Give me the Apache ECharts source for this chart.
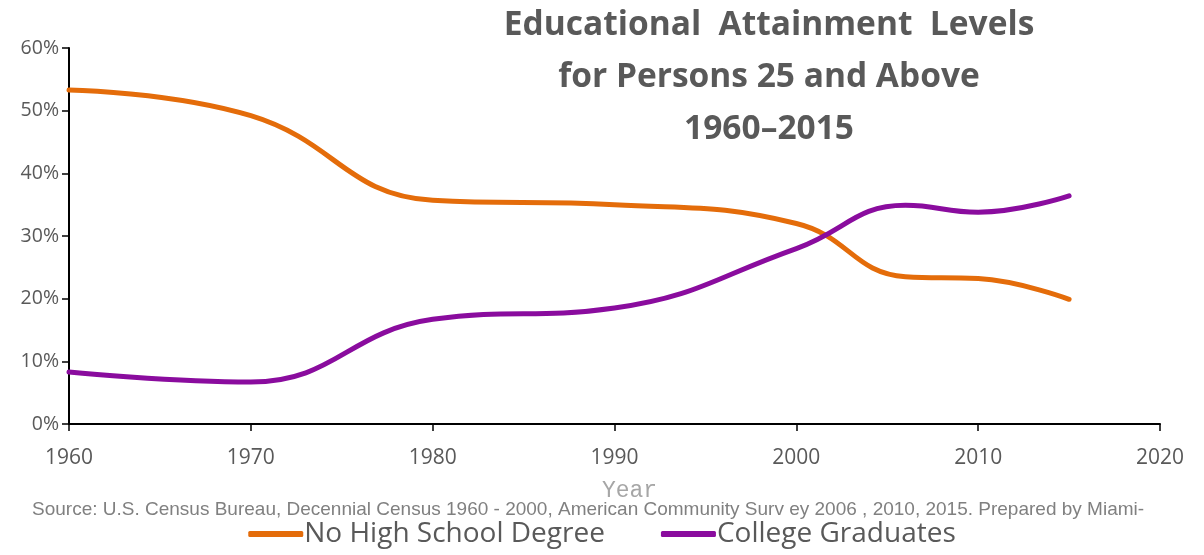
<!DOCTYPE html>
<html>
<head>
<meta charset="utf-8">
<script src="https://cdn.jsdelivr.net/npm/echarts@6/dist/echarts.min.js"></script>
<style>
  html, body { margin: 0; padding: 0; background: #fff; }
  #chart { width: 1204px; height: 555px; }
</style>
</head>
<body>
<div id="chart"></div>
<script>
// years of the census / ACS points
var years = [1960, 1970, 1980, 1990, 2000, 2006, 2010, 2015];
// percent of persons 25+ without a high school degree
var noHighSchool = [53.3, 49.2, 35.7, 35.0, 32.0, 23.5, 23.2, 19.9];
// percent of persons 25+ with a college degree
var collegeGrads = [8.3, 6.7, 16.7, 18.5, 28.0, 34.9, 33.8, 36.4];

var seriesNames = ['No High School Degree', 'College Graduates'];

function pairs(xs, ys) {
    var out = [];
    for (var i = 0; i < xs.length; i++) {
        out.push([xs[i], ys[i]]);
    }
    return out;
}

var myChart = echarts.init(document.getElementById('chart'));

var option = {
    backgroundColor: '#ffffff',
    animation: false,
    color: ['#E46C0A', '#8A0C9E'],
    title: {
        text: 'Educational  Attainment  Levels\nfor Persons 25 and Above\n1960\u20132015',
        left: 764,
        textAlign: 'center',
        top: -6,
        textStyle: {
            fontFamily: 'Open Sans',
            fontWeight: 'bold',
            fontSize: 33.5,
            lineHeight: 52,
            color: '#595959'
        }
    },
    legend: {
        data: seriesNames,
        bottom: 2,
        left: 'center',
        itemWidth: 55,
        itemHeight: 6,
        itemGap: 56,
        icon: 'roundRect',
        textStyle: {
            fontFamily: 'Open Sans',
            fontSize: 28,
            color: '#595959',
            padding: [0, 0, 0, -4]
        }
    },
    graphic: [{
        type: 'text',
        left: 32,
        top: 500,
        style: {
            text: 'Source: U.S. Census Bureau, Decennial Census 1960 - 2000, American Community Surv ey 2006 , 2010, 2015. Prepared by Miami-',
            font: '19px "Liberation Sans", Arial, sans-serif',
            fill: '#808080'
        }
    }],
    grid: {
        left: 69,
        right: 44,
        top: 48,
        bottom: 131,
        containLabel: false
    },
    xAxis: {
        type: 'value',
        min: 1960,
        max: 2020,
        interval: 10,
        name: 'Year',
        nameLocation: 'middle',
        nameGap: 55,
        nameTextStyle: {
            fontFamily: 'Liberation Mono',
            fontSize: 23,
            color: '#a6a6a6',
            padding: [0, 0, 0, 30]
        },
        axisLine: { show: true, lineStyle: { color: '#000', width: 2 } },
        axisTick: { show: true, length: 7, lineStyle: { color: '#000', width: 1.5 } },
        axisLabel: {
            margin: 24,
            fontFamily: 'Open Sans',
            fontSize: 21,
            color: '#595959',
            formatter: function (v) { return String(v); }
        },
        splitLine: { show: false }
    },
    yAxis: {
        type: 'value',
        min: 0,
        max: 60,
        interval: 10,
        axisLine: { show: true, lineStyle: { color: '#000', width: 2 } },
        axisTick: { show: true, length: 7, lineStyle: { color: '#000', width: 1.5 } },
        axisLabel: {
            margin: 10,
            fontFamily: 'Open Sans',
            fontSize: 19.5,
            color: '#595959',
            formatter: '{value}%'
        },
        splitLine: { show: false }
    },
    series: [
        {
            name: seriesNames[0],
            type: 'line',
            data: pairs(years, noHighSchool),
            smooth: 0.45,
            showSymbol: false,
            lineStyle: { width: 5, cap: 'round' }
        },
        {
            name: seriesNames[1],
            type: 'line',
            data: pairs(years, collegeGrads),
            smooth: 0.45,
            showSymbol: false,
            lineStyle: { width: 5, cap: 'round' }
        }
    ]
};
myChart.setOption(option);
</script>
</body>
</html>
